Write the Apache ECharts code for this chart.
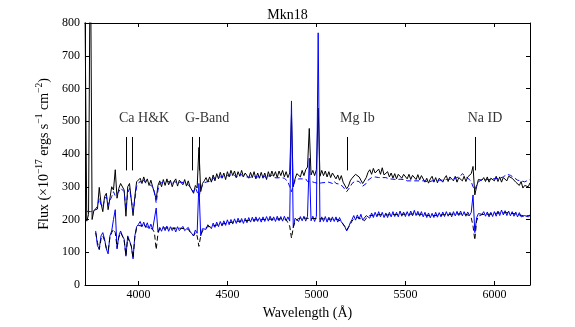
<!DOCTYPE html>
<html>
<head>
<meta charset="utf-8">
<script src="https://cdn.jsdelivr.net/npm/echarts@6.0.0/dist/echarts.min.js"></script>
<style>
  html, body { margin: 0; padding: 0; background: #fff; }
  #chart { width: 575px; height: 327px; }
</style>
</head>
<body>
<div id="chart"></div>
<script>
// wavelength grid, 3700..6200 A every 10 A
const waveStart = 3700
const waveStep = 10

// observed spectrum, upper (black solid)
const obsHi = [
  850, 195, 215, 1100, 200, 228, 222, 232, 298, 250,
  224, 270, 280, 230, 226, 300, 290, 352, 265, 295,
  310, 316, 290, 210, 300, 310, 315, 212, 270, 315,
  312, 326, 310, 330, 312, 324, 304, 320, 300, 296,
  262, 304, 318, 300, 322, 304, 324, 306, 320, 300,
  316, 324, 302, 320, 326, 306, 322, 302, 318, 300,
  295, 280, 304, 296, 420, 285, 310, 318, 328, 314,
  330, 314, 336, 318, 340, 324, 344, 326, 342, 322,
  346, 330, 350, 334, 348, 328, 346, 332, 350, 330,
  342, 346, 326, 344, 328, 346, 324, 342, 326, 344,
  326, 342, 322, 346, 330, 348, 332, 346, 328, 348,
  334, 350, 330, 346, 328, 342, 520, 300, 324, 340,
  346, 330, 350, 334, 352, 360, 478, 336, 350, 334,
  352, 540, 332, 350, 334, 348, 330, 346, 328, 342,
  338, 324, 336, 320, 334, 314, 310, 294, 302, 318,
  326, 332, 338, 342, 330, 328, 310, 304, 328, 344,
  352, 338, 356, 342, 340, 354, 338, 358, 336, 340,
  346, 330, 342, 326, 340, 324, 338, 342, 326, 338,
  336, 324, 338, 322, 335, 340, 322, 337, 321, 334,
  330, 314, 326, 311, 324, 332, 314, 328, 312, 326,
  329, 314, 326, 334, 316, 330, 336, 318, 332, 314,
  328, 334, 318, 332, 316, 330, 334, 340, 362, 275,
  300, 322, 318, 320, 328, 316, 330, 314, 326, 332,
  318, 332, 316, 330, 314, 328, 334, 318, 332, 338,
  326, 328, 314, 318, 304, 316, 296, 304, 308, 300,
  312
]

// model, upper (blue dashed)
const modHi = [
  null, 225, 222, 224, 218, 226, 228, 240, 265, 245,
  238, 262, 270, 245, 240, 270, 285, 272, 268, 285,
  296, 300, 285, 230, 280, 295, 290, 225, 260, 300,
  310, 317, 310, 320, 312, 318, 308, 314, 300, 285,
  250, 290, 310, 306, 314, 308, 316, 310, 315, 308,
  316, 313, 312, 316, 314, 314, 312, 312, 306, 302,
  292, 285, 298, 292, 270, 290, 305, 312, 318, 316,
  320, 316, 326, 320, 328, 322, 330, 324, 332, 326,
  334, 328, 336, 330, 335, 328, 336, 330, 337, 330,
  334, 330, 333, 329, 332, 331, 329, 330, 326, 332,
  326, 332, 325, 333, 327, 335, 328, 334, 327, 333,
  328, 334, 326, 328, 316, 300, 285, 305, 318, 322,
  324, 318, 324, 318, 324, 316, 322, 316, 318, 313,
  316, 310, 314, 312, 314, 313, 315, 314, 316, 310,
  317, 310, 316, 308, 306, 300, 292, 285, 288, 300,
  310, 315, 318, 320, 316, 310, 302, 298, 310, 320,
  325, 328, 331, 330, 330, 328, 334, 328, 330, 328,
  330, 324, 330, 323, 329, 322, 328, 323, 325, 322,
  324, 318, 324, 318, 320, 318, 320, 318, 320, 318,
  320, 318, 320, 314, 320, 318, 320, 318, 320, 320,
  322, 320, 322, 322, 324, 323, 326, 324, 330, 328,
  334, 333, 340, 334, 330, 326, 322, 315, 300, 290,
  305, 315, 320, 322, 324, 322, 324, 322, 325, 324,
  326, 325, 328, 326, 328, 330, 334, 338, 336, 335,
  332, 328, 324, 320, 316, 318, 312, 315, 318, 320,
  322
]

// observed spectrum, lower (blue solid)
const obsLo = [
  null, null, null, null, null, null, 165, 120, 110, 150,
  160, 140, 110, 95, 150, 165, 200, 230, 110, 150,
  165, 150, 140, 88, 150, 145, 120, 80, 150, 178,
  185, 194, 178, 192, 176, 190, 172, 186, 170, 174,
  235, 162, 176, 164, 179, 166, 180, 164, 178, 166,
  176, 162, 178, 166, 172, 179, 166, 169, 176, 164,
  158, 150, 168, 158, 310, 150, 172, 176, 170, 184,
  186, 172, 189, 176, 192, 178, 194, 180, 196, 182,
  199, 184, 200, 186, 202, 188, 204, 190, 203, 188,
  204, 190, 206, 192, 207, 193, 208, 194, 206, 192,
  208, 194, 209, 195, 210, 196, 208, 194, 210, 196,
  209, 195, 210, 196, 208, 195, 562, 175, 204, 210,
  194, 209, 196, 210, 195, 210, 387, 196, 210, 194,
  210, 770, 192, 208, 194, 209, 192, 207, 193, 208,
  194, 208, 192, 206, 193, 190, 178, 165, 175, 190,
  200, 212, 198, 214, 201, 216, 198, 196, 212, 218,
  204, 220, 206, 222, 208, 224, 208, 222, 206, 220,
  206, 222, 208, 224, 209, 222, 208, 226, 210, 223,
  209, 224, 210, 226, 211, 228, 212, 225, 210, 224,
  208, 222, 206, 220, 205, 219, 206, 222, 207, 221,
  208, 223, 209, 224, 210, 222, 208, 224, 211, 225,
  212, 226, 211, 224, 210, 223, 212, 222, 275, 160,
  205, 218, 214, 216, 224, 210, 223, 208, 222, 209,
  224, 210, 226, 212, 229, 214, 227, 212, 226, 211,
  224, 210, 223, 208, 221, 208, 205, 212, 216, 208,
  212
]

// model, lower (black dashed)
const modLo = [
  null, null, null, null, null, null, 160, 130, 108, 140,
  150, 135, 112, 105, 145, 160, 170, 160, 115, 145,
  160, 150, 135, 90, 145, 140, 118, 82, 145, 175,
  182, 188, 180, 187, 178, 184, 176, 182, 170, 160,
  108, 158, 172, 168, 174, 169, 174, 168, 174, 168,
  173, 168, 174, 168, 173, 170, 172, 166, 170, 162,
  156, 150, 160, 150, 118, 150, 165, 172, 175, 178,
  181, 179, 184, 182, 186, 184, 188, 186, 190, 188,
  192, 190, 194, 192, 196, 194, 197, 195, 198, 196,
  199, 197, 200, 198, 201, 199, 201, 199, 202, 200,
  202, 200, 203, 201, 203, 201, 203, 201, 204, 202,
  204, 202, 203, 200, 195, 180, 143, 175, 195, 200,
  203, 201, 204, 202, 204, 201, 203, 201, 203, 201,
  203, 201, 202, 200, 202, 200, 201, 199, 201, 199,
  201, 198, 200, 196, 194, 188, 178, 168, 172, 185,
  195, 202, 205, 206, 205, 202, 198, 196, 204, 210,
  212, 214, 213, 216, 214, 217, 215, 217, 214, 216,
  214, 217, 215, 217, 215, 217, 215, 218, 216, 218,
  216, 218, 216, 219, 217, 219, 217, 219, 216, 218,
  215, 216, 213, 214, 211, 213, 212, 214, 213, 215,
  214, 216, 215, 217, 215, 218, 216, 218, 217, 219,
  217, 219, 217, 219, 216, 214, 212, 205, 180, 137,
  195, 210, 214, 215, 216, 216, 216, 216, 217, 217,
  216, 219, 217, 220, 218, 220, 219, 221, 218, 219,
  217, 218, 215, 215, 211, 213, 208, 210, 212, 212,
  213
]

// line identifications
const featureNames = ['Ca H&K', 'G-Band', 'Mg Ib', 'Na ID']
const featureWaves = [[3934, 3968], [4304, 4340], [5176], [5893]]
const markerRange = [350, 452]
const labelFlux = 486

const xTicks = [4000, 4500, 5000, 5500, 6000]

const serif = 'Liberation Serif'
const lbl = { fontFamily: serif, fontSize: 12, color: '#000' }

const toPairs = arr => arr.map((v, i) => [waveStart + i * waveStep, v])

const chart = echarts.init(document.getElementById('chart'), null, { renderer: 'canvas' })

const markData = []
featureWaves.forEach(ws => ws.forEach(w => {
  markData.push([{ coord: [w, markerRange[0]] }, { coord: [w, markerRange[1]] }])
}))

const xBase = {
  type: 'value', min: 3700, max: 6200,
  axisLine: { show: true, onZero: false, lineStyle: { color: '#000', width: 1 } },
  axisTick: { show: true, inside: true, length: 4, customValues: xTicks, lineStyle: { color: '#000' } },
  splitLine: { show: false }
}
const yBase = {
  type: 'value', min: 0, max: 800, interval: 100,
  axisLine: { show: true, lineStyle: { color: '#000', width: 1 } },
  axisTick: { show: true, inside: true, length: 4, lineStyle: { color: '#000' } },
  splitLine: { show: false }
}

chart.setOption({
  animation: false,
  title: {
    text: 'Mkn18', left: 'center', top: 3,
    textStyle: { fontFamily: serif, fontSize: 14, fontWeight: 'normal', color: '#000' }
  },
  grid: { left: 85, right: 45, top: 23, bottom: 42 },
  xAxis: [
    Object.assign({}, xBase, {
      position: 'bottom',
      name: 'Wavelength (Å)', nameLocation: 'middle', nameGap: 18,
      nameTextStyle: { fontFamily: serif, fontSize: 14, color: '#000' },
      axisLabel: Object.assign({ margin: 4, customValues: xTicks, formatter: v => String(v) }, lbl)
    }),
    Object.assign({}, xBase, { position: 'top', axisLabel: { show: false } })
  ],
  yAxis: [
    Object.assign({}, yBase, {
      position: 'left',
      name: '{n|Flux (×10}{s|−17}{n| ergs s}{s|−1}{n| cm}{s|−2}{n|)}',
      nameLocation: 'middle', nameGap: 28, nameRotate: 90,
      nameTextStyle: {
        fontFamily: serif, fontSize: 14, color: '#000',
        rich: {
          n: { fontFamily: serif, fontSize: 14, lineHeight: 17, verticalAlign: 'bottom', color: '#000' },
          s: { fontFamily: serif, fontSize: 9.5, lineHeight: 10, verticalAlign: 'top', color: '#000' }
        }
      },
      axisLabel: Object.assign({ margin: 5 }, lbl)
    }),
    Object.assign({}, yBase, { position: 'right', axisLabel: { show: false } })
  ],
  series: [
    {
      name: 'obsHi', type: 'line', data: toPairs(obsHi), showSymbol: false,
      lineStyle: { color: '#000', width: 1 }, clip: true
    },
    {
      name: 'modHi', type: 'line', data: toPairs(modHi), showSymbol: false,
      lineStyle: { color: '#0000ff', width: 1, type: [5, 3] }, clip: true
    },
    {
      name: 'obsLo', type: 'line', data: toPairs(obsLo), showSymbol: false,
      lineStyle: { color: '#0000ff', width: 1 }, clip: true
    },
    {
      name: 'modLo', type: 'line', data: toPairs(modLo), showSymbol: false,
      lineStyle: { color: '#000', width: 1, type: [5, 3] }, clip: true
    },
    {
      name: 'features', type: 'scatter', symbolSize: 1,
      itemStyle: { color: 'rgba(0,0,0,0)' },
      data: featureNames.map((n, i) => [featureWaves[i][0] - 40, labelFlux, n]),
      label: {
        show: true, position: [0, 0], align: 'left', verticalAlign: 'bottom',
        formatter: p => p.data[2],
        fontFamily: serif, fontSize: 14, color: '#000'
      },
      markLine: {
        silent: true, symbol: 'none', label: { show: false },
        lineStyle: { color: '#000', width: 1, type: 'solid' },
        data: markData
      }
    }
  ]
})
</script>
</body>
</html>
